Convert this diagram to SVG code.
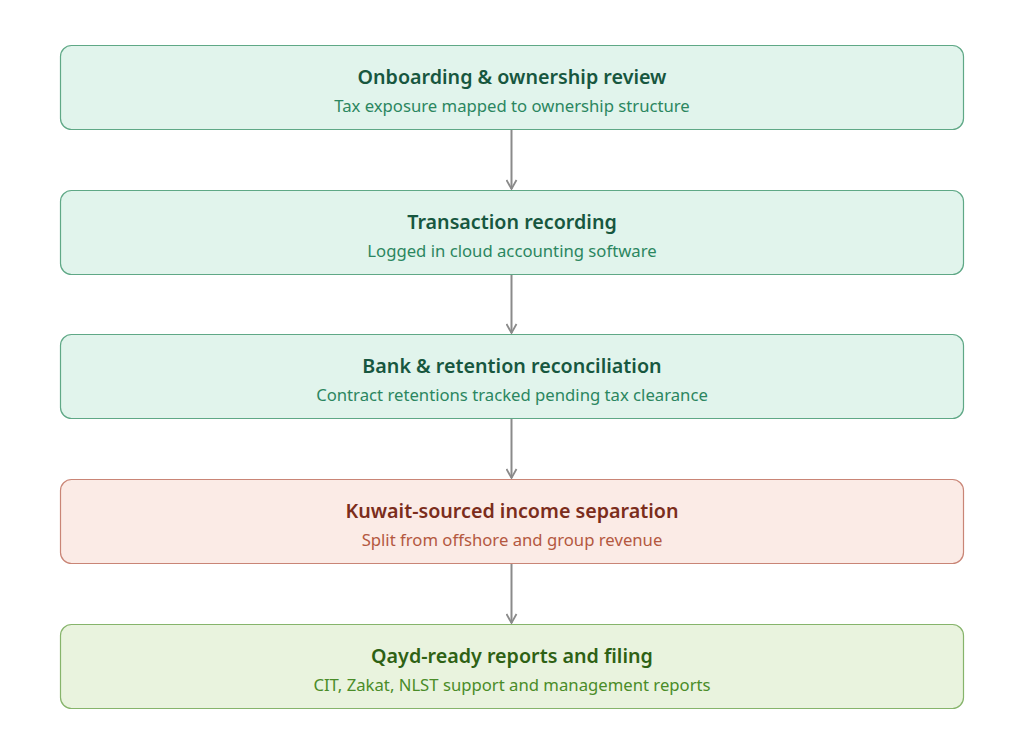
<svg xmlns="http://www.w3.org/2000/svg" width="1024" height="738" viewBox="0 0 1024 738">
<style>
.box{stroke-width:1.2}
.g .box{fill:#e1f4ec;stroke:#5fa886}
.r .box{fill:#fbebe6;stroke:#c98576}
.l .box{fill:#e9f3de;stroke:#86b46b}
.t{font-family:"Noto Sans","Open Sans",sans-serif;font-weight:600;font-size:19.7px;text-anchor:middle}
.s{font-family:"Noto Sans","Open Sans",sans-serif;font-size:16.7px;text-anchor:middle}
.g .t{fill:#17573f}.g .s{fill:#2b8660}
.r .t{fill:#7b2d1c}.r .s{fill:#b4583f}
.l .t{fill:#2e6114}.l .s{fill:#4a8c28}
.c{stroke:#8a8a8a;stroke-width:2;fill:none}
</style>
<defs>
<marker id="a" viewBox="0 0 12 12" refX="10" refY="6" markerWidth="12" markerHeight="12" markerUnits="userSpaceOnUse" orient="auto">
<path d="M1,1 L10,6 L1,11" fill="none" stroke="#8a8a8a" stroke-width="1.8"/>
</marker>
</defs>
<rect width="1024" height="738" fill="#ffffff"/>
<g id="connectors">
<line class="c" x1="511.5" y1="130" x2="511.5" y2="189" marker-end="url(#a)"/>
<line class="c" x1="511.5" y1="274" x2="511.5" y2="333" marker-end="url(#a)"/>
<line class="c" x1="511.5" y1="418" x2="511.5" y2="478" marker-end="url(#a)"/>
<line class="c" x1="511.5" y1="563" x2="511.5" y2="623" marker-end="url(#a)"/>
</g>
<g id="n1" class="g">
<rect class="box" x="60.5" y="45.5" width="903" height="84" rx="11"/>
<text class="t" x="512" y="84">Onboarding &amp; ownership review</text>
<text class="s" x="512" y="112">Tax exposure mapped to ownership structure</text>
</g>
<g id="n2" class="g">
<rect class="box" x="60.5" y="190.5" width="903" height="84" rx="11"/>
<text class="t" x="512" y="229">Transaction recording</text>
<text class="s" x="512" y="257">Logged in cloud accounting software</text>
</g>
<g id="n3" class="g">
<rect class="box" x="60.5" y="334.5" width="903" height="84" rx="11"/>
<text class="t" x="512" y="373">Bank &amp; retention reconciliation</text>
<text class="s" x="512" y="401">Contract retentions tracked pending tax clearance</text>
</g>
<g id="n4" class="r">
<rect class="box" x="60.5" y="479.5" width="903" height="84" rx="11"/>
<text class="t" x="512" y="518">Kuwait-sourced income separation</text>
<text class="s" x="512" y="546">Split from offshore and group revenue</text>
</g>
<g id="n5" class="l">
<rect class="box" x="60.5" y="624.5" width="903" height="84" rx="11"/>
<text class="t" x="512" y="663">Qayd-ready reports and filing</text>
<text class="s" x="512" y="691">CIT, Zakat, NLST support and management reports</text>
</g>
</svg>
